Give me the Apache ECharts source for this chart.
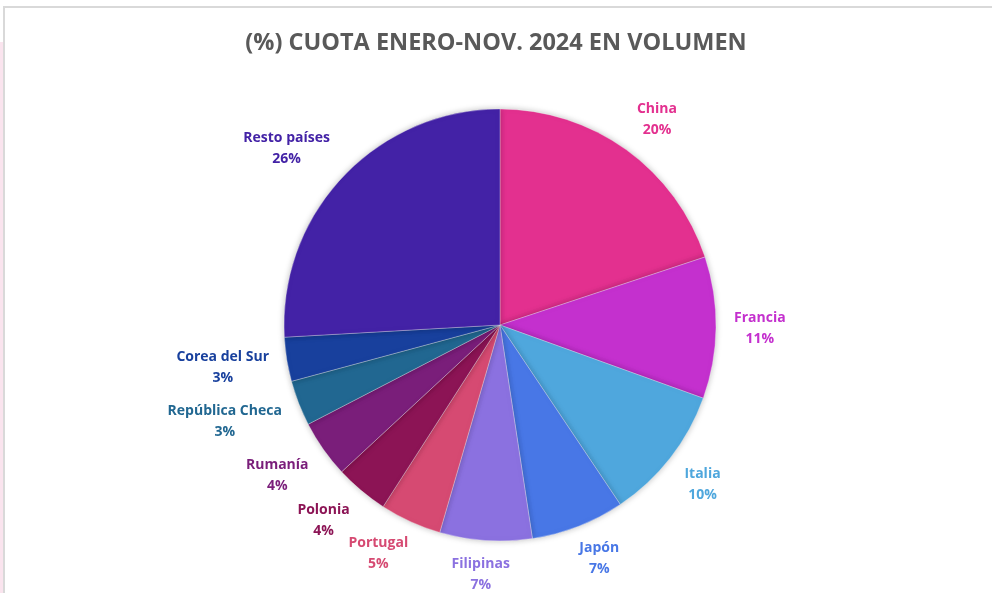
<!DOCTYPE html>
<html>
<head>
<meta charset="utf-8">
<script src="https://cdn.jsdelivr.net/npm/echarts@6/dist/echarts.min.js"></script>
<style>
  html, body { margin: 0; padding: 0; background: #fff; }
  #cuota { width: 992px; height: 593px; }
</style>
</head>
<body>
<div id="cuota"></div>
<script>
// cuota de mercado enero-nov 2024, volumen (%)
var paises = ['China', 'Francia', 'Italia', 'Japón', 'Filipinas', 'Portugal', 'Polonia', 'Rumanía', 'República Checa', 'Corea del Sur', 'Resto países'];
var cuota = [19.9, 10.6, 10.1, 7.0, 6.9, 4.6, 4.0, 4.3, 3.4, 3.3, 25.9];
var colores = ['#e3308f', '#c430ce', '#4fa7dd', '#4877e6', '#8b71e0', '#d64a72', '#8c1455', '#7a1e7a', '#216791', '#18409d', '#4322a6'];

var datos = [];
for (var i = 0; i < paises.length; i++) {
    datos.push({ name: paises[i], value: cuota[i], itemStyle: { color: colores[i] } });
}

var centro = [500, 325];
var radio = 216;
var total = cuota.reduce(function (a, b) { return a + b; }, 0);

// etiquetas fuera del sector, al estilo excel (pegadas por la esquina mas cercana)
function colocarEtiqueta(params) {
    var idx = params.dataIndex;
    var acum = 0;
    for (var k = 0; k < idx; k++) acum += cuota[k];
    var ang = (acum + cuota[idx] / 2) / total * Math.PI * 2;
    var ux = Math.sin(ang), uy = -Math.cos(ang);
    var sep = 18;
    var ax = centro[0] + (radio + sep) * ux;
    var ay = centro[1] + (radio + sep) * uy;
    var w = params.labelRect.width, h = params.labelRect.height;
    var fx = Math.sign(ux) * Math.min(1, Math.abs(ux) * 2);
    var fy = Math.sign(uy) * Math.min(1, Math.abs(uy) * 2) * 0.75;
    return {
        x: ax + fx * w / 2,
        y: ay + fy * h / 2,
        align: 'center',
        verticalAlign: 'middle',
        hideOverlap: false,
        moveOverlap: null
    };
}

var pie = echarts.init(document.getElementById('cuota'));
var option = {
    backgroundColor: '#fff',
    animation: false,
    title: {
        text: '(%) CUOTA ENERO-NOV. 2024 EN VOLUMEN',
        left: 'center',
        top: 26,
        textStyle: {
            fontFamily: 'Open Sans',
            fontWeight: 'bold',
            fontSize: 23.5,
            color: '#595959'
        }
    },
    graphic: [
        // marco del grafico
        { type: 'rect', shape: { x: 0, y: 42, width: 3, height: 551 }, style: { fill: '#fae4ee' }, silent: true },
        { type: 'rect', shape: { x: 3, y: 6, width: 989, height: 2 }, style: { fill: '#d9d9d9' }, silent: true },
        { type: 'rect', shape: { x: 3, y: 6, width: 2, height: 587 }, style: { fill: '#d9d9d9' }, silent: true }
    ],
    series: [{
        name: 'Cuota',
        type: 'pie',
        center: centro,
        radius: radio,
        startAngle: 90,
        clockwise: true,
        avoidLabelOverlap: false,
        itemStyle: {
            borderColor: 'rgba(255,255,255,0.5)',
            borderWidth: 0.6,
            shadowBlur: 6,
            shadowColor: 'rgba(0,0,0,0.25)'
        },
        label: {
            show: true,
            position: 'outside',
            color: 'inherit',
            fontFamily: 'Open Sans',
            fontWeight: 'bold',
            fontSize: 14,
            lineHeight: 21,
            formatter: function (p) {
                return '{n|' + p.name + '}\n{n|' + Math.round(p.percent) + '%}';
            },
            rich: {
                n: { align: 'center', fontFamily: 'Open Sans', fontWeight: 'bold', fontSize: 14, lineHeight: 21 }
            }
        },
        labelLine: { show: false, length: 14, length2: 0 },
        labelLayout: colocarEtiqueta,
        emphasis: { disabled: true },
        data: datos
    }]
};
pie.setOption(option);
</script>
</body>
</html>
